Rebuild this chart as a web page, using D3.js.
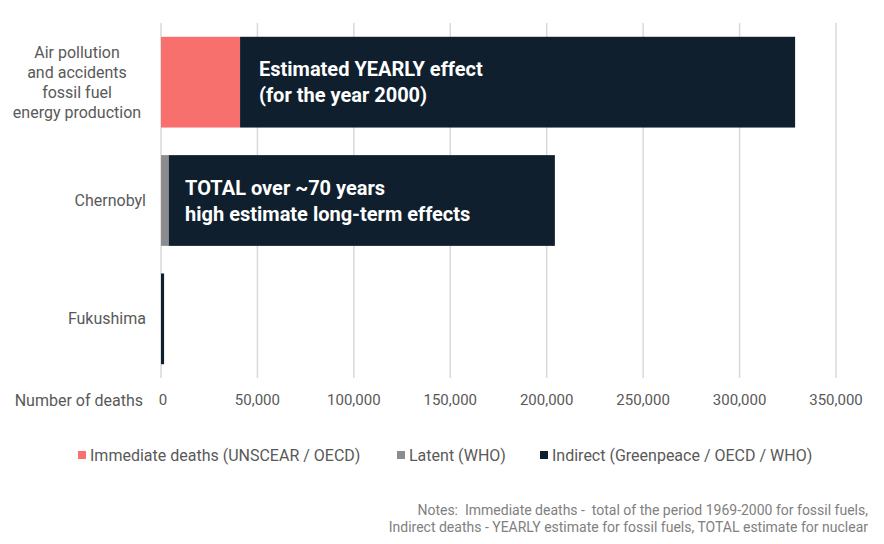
<!DOCTYPE html>
<html>
<head>
<meta charset="utf-8">
<script src="https://cdn.jsdelivr.net/npm/d3@7"></script>
<style>
  body { margin: 0; background: #fff; }
  text { font-family: Roboto, "DejaVu Sans", sans-serif; }
</style>
</head>
<body>
<div id="wrapper"></div>
<script>
// categories (top to bottom) and stacked series
const categories = ["Air pollution\nand accidents\nfossil fuel\nenergy production", "Chernobyl", "Fukushima"]
const immediate = [41000, 31, 0]
const latent = [0, 4000, 0]
const indirect = [287800, 200200, 1600]
const seriesNames = ["Immediate deaths (UNSCEAR / OECD)", "Latent (WHO)", "Indirect (Greenpeace / OECD / WHO)"]
const seriesColors = ["#f8706e", "#8c8c8c", "#0f1f2e"]
const xTicks = [0, 50000, 100000, 150000, 200000, 250000, 300000, 350000]
const notes = [
  "Notes:  Immediate deaths -  total of the period 1969-2000 for fossil fuels,",
  "Indirect deaths - YEARLY estimate for fossil fuels, TOTAL estimate for nuclear"
]

let dimensions = {
  width: 884,
  height: 544,
  margin: { top: 23, right: 48, bottom: 166, left: 161 },
}
dimensions.boundedWidth = dimensions.width - dimensions.margin.left - dimensions.margin.right
dimensions.boundedHeight = dimensions.height - dimensions.margin.top - dimensions.margin.bottom

const wrapper = d3.select("#wrapper")
  .append("svg")
    .attr("width", dimensions.width)
    .attr("height", dimensions.height)

const bounds = wrapper.append("g")
  .attr("transform", `translate(${dimensions.margin.left},${dimensions.margin.top})`)

const xScale = d3.scaleLinear()
  .domain([0, 350000])
  .range([0, 675])

const yScale = d3.scaleBand()
  .domain(d3.range(categories.length))
  .range([0, dimensions.boundedHeight])
  .paddingInner(0.233)
  .paddingOuter(0.1165)

// gridlines
bounds.append("g")
  .selectAll("line")
  .data(xTicks)
  .join("line")
    .attr("x1", d => xScale(d))
    .attr("x2", d => xScale(d))
    .attr("y1", 0)
    .attr("y2", dimensions.boundedHeight)
    .attr("stroke", "#d9d9d9")
    .attr("stroke-width", 1.5)

// stack
const table = categories.map((c, i) => ({ i, immediate: immediate[i], latent: latent[i], indirect: indirect[i] }))
const stack = d3.stack().keys(["immediate", "latent", "indirect"])(table)

bounds.append("g")
  .selectAll("g")
  .data(stack)
  .join("g")
    .attr("fill", (d, i) => seriesColors[i])
  .selectAll("rect")
  .data(d => d)
  .join("rect")
    .attr("x", d => xScale(d[0]))
    .attr("width", d => Math.max(0, xScale(d[1]) - xScale(d[0])))
    .attr("y", d => yScale(d.data.i))
    .attr("height", yScale.bandwidth())

// category labels
const catGroup = bounds.append("g")
categories.forEach((c, i) => {
  const lines = c.split("\n")
  const cy = yScale(i) + yScale.bandwidth() / 2
  const multi = lines.length > 1
  const t = catGroup.append("text")
    .attr("fill", "#595959")
    .style("font-size", "16px")
    .attr("text-anchor", multi ? "middle" : "end")
  lines.forEach((l, j) => {
    t.append("tspan")
      .attr("x", multi ? -84 : -15)
      .attr("y", cy + (j - (lines.length - 1) / 2) * 20)
      .attr("dy", "0.35em")
      .text(l)
  })
})

// in-bar annotations
const ann = [
  { i: 0, x: 50800, lines: ["Estimated YEARLY effect", "(for the year 2000)"] },
  { i: 1, x: 12500, lines: ["TOTAL over ~70 years", "high estimate long-term effects"] },
]
ann.forEach(a => {
  const cy = yScale(a.i) + yScale.bandwidth() / 2
  const t = bounds.append("text")
    .attr("fill", "#ffffff")
    .style("font-size", "20px")
    .style("font-weight", "bold")
  a.lines.forEach((l, j) => {
    t.append("tspan")
      .attr("x", xScale(a.x))
      .attr("y", cy - 13 + j * 26)
      .attr("dy", "0.35em")
      .text(l)
  })
})

// x axis labels
const axisY = dimensions.boundedHeight + 22
bounds.append("g")
  .selectAll("text")
  .data(xTicks)
  .join("text")
    .attr("x", (d, i) => i === 0 ? xScale(d) + 2 : xScale(d))
    .attr("y", axisY)
    .attr("dy", "0.35em")
    .attr("text-anchor", "middle")
    .attr("fill", "#595959")
    .style("font-size", "15px")
    .text(d => d3.format(",")(d))

bounds.append("text")
  .attr("x", -18)
  .attr("y", axisY)
  .attr("dy", "0.35em")
  .attr("text-anchor", "end")
  .attr("fill", "#595959")
  .style("font-size", "16px")
  .text("Number of deaths")

// legend
const legendX = [78, 397, 540]
const legendGroup = wrapper.append("g").attr("transform", "translate(0,455)")
seriesNames.forEach((n, i) => {
  legendGroup.append("rect")
    .attr("x", legendX[i]).attr("y", -4)
    .attr("width", 8).attr("height", 8)
    .attr("fill", seriesColors[i])
  legendGroup.append("text")
    .attr("x", legendX[i] + 12).attr("y", 0)
    .attr("dy", "0.35em")
    .attr("fill", "#595959")
    .style("font-size", "16px")
    .text(n)
})

// notes
wrapper.append("g")
  .selectAll("text")
  .data(notes)
  .join("text")
    .attr("x", 868)
    .attr("y", (d, i) => 510 + i * 17)
    .attr("dy", "0.35em")
    .attr("text-anchor", "end")
    .attr("fill", "#808080")
    .style("font-size", "14px")
    .style("white-space", "pre")
    .text(d => d)
</script>
</body>
</html>
